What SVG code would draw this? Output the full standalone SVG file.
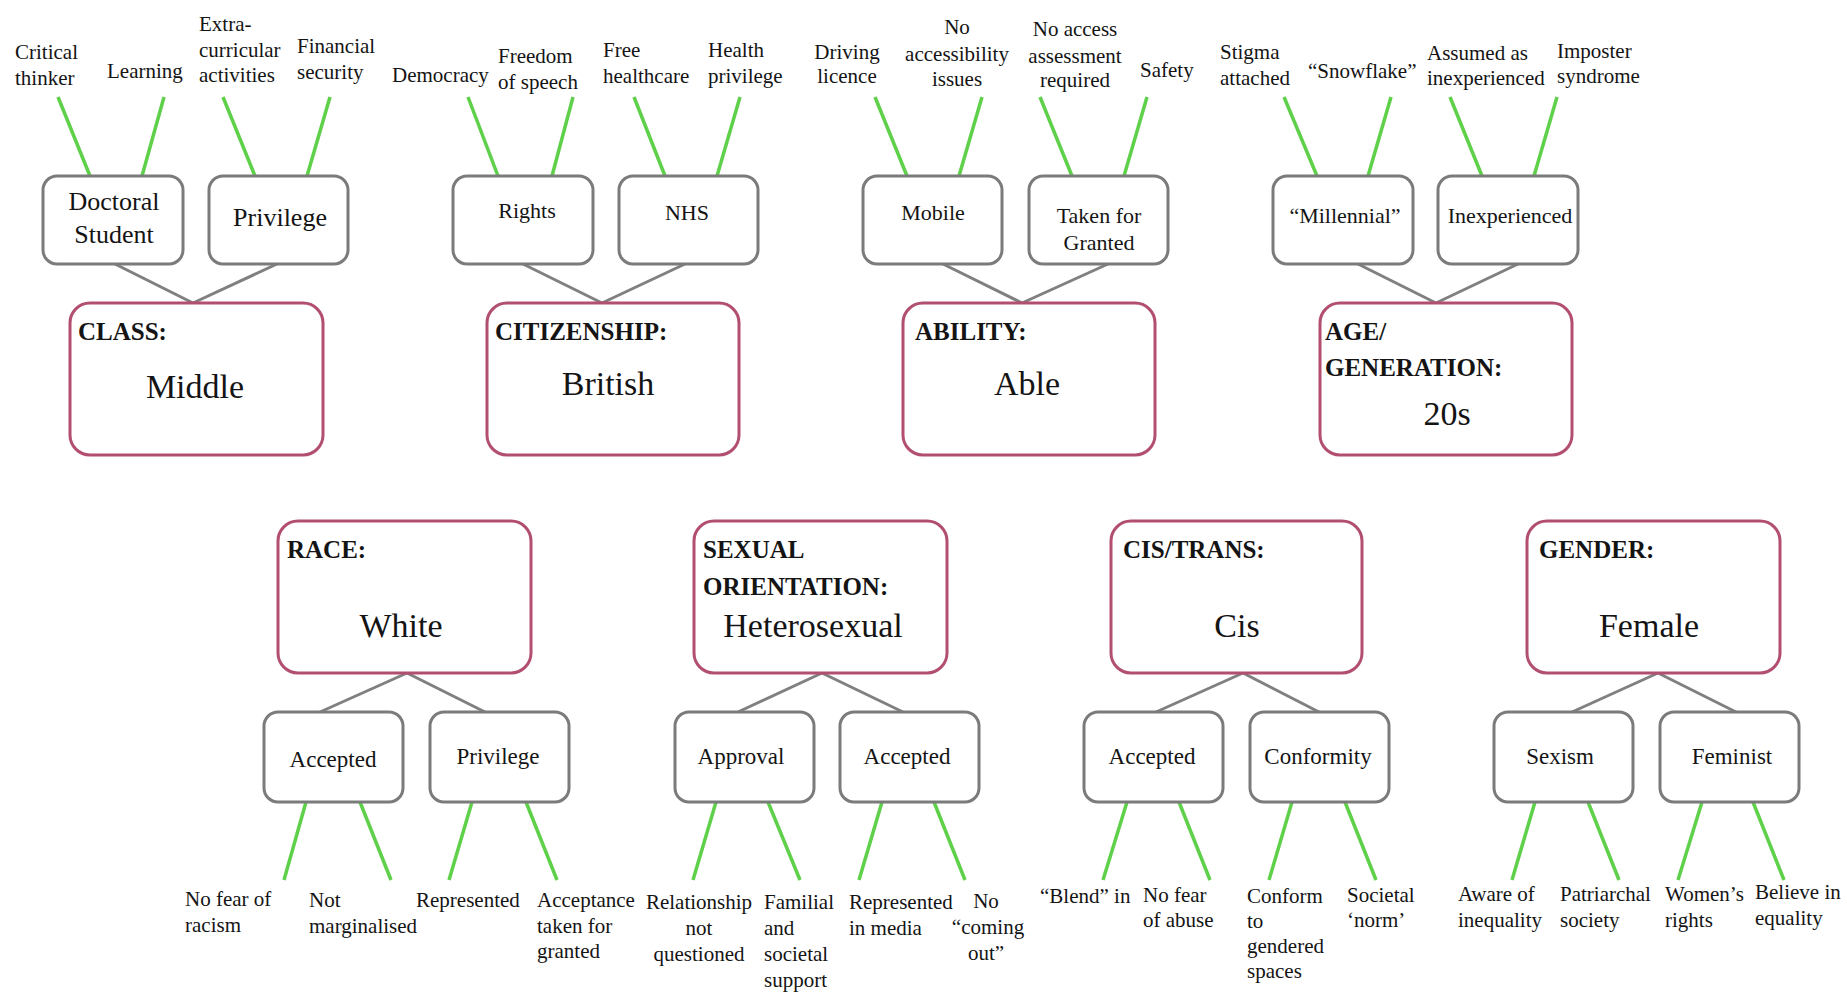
<svg xmlns="http://www.w3.org/2000/svg" width="1847" height="992" viewBox="0 0 1847 992">
<style>
.bg{fill:#fff}
.main{fill:#fff;stroke:#b24f70;stroke-width:3}
.sub{fill:#fff;stroke:#7b7b7b;stroke-width:3}
.gl{stroke:#5fd04a;stroke-width:3.5;fill:none}
.gr{stroke:#808080;stroke-width:3;fill:none}
text{font-family:"Liberation Serif","Times New Roman",serif;fill:#141414}
.lab{font-size:21px}
.box{font-size:22px;text-anchor:middle}
.boxl{font-size:26px;text-anchor:middle}
.box2{font-size:23px;text-anchor:middle}
.hd{font-size:25px;font-weight:bold}
.val{font-size:34px;text-anchor:middle}
.c{text-anchor:middle}
</style>
<rect class="bg" x="0" y="0" width="1847" height="992"/>

<g id="connectors">
  <!-- CLASS -->
  <line class="gr" x1="115" y1="264" x2="193" y2="303"/>
  <line class="gr" x1="277" y1="264" x2="193" y2="303"/>
  <line class="gl" x1="58" y1="97" x2="90" y2="176"/>
  <line class="gl" x1="164" y1="97" x2="142" y2="176"/>
  <line class="gl" x1="223" y1="97" x2="255" y2="176"/>
  <line class="gl" x1="330" y1="97" x2="307" y2="176"/>
  <!-- CITIZENSHIP -->
  <line class="gr" x1="523" y1="264" x2="602" y2="303"/>
  <line class="gr" x1="685" y1="264" x2="602" y2="303"/>
  <line class="gl" x1="468" y1="97" x2="498" y2="176"/>
  <line class="gl" x1="573" y1="97" x2="552" y2="176"/>
  <line class="gl" x1="634" y1="97" x2="665" y2="176"/>
  <line class="gl" x1="740" y1="97" x2="717" y2="176"/>
  <!-- ABILITY -->
  <line class="gr" x1="943" y1="264" x2="1022" y2="303"/>
  <line class="gr" x1="1108" y1="264" x2="1022" y2="303"/>
  <line class="gl" x1="875" y1="97" x2="907" y2="176"/>
  <line class="gl" x1="982" y1="97" x2="959" y2="176"/>
  <line class="gl" x1="1040" y1="97" x2="1072" y2="176"/>
  <line class="gl" x1="1147" y1="97" x2="1124" y2="176"/>
  <!-- AGE -->
  <line class="gr" x1="1358" y1="264" x2="1436" y2="303"/>
  <line class="gr" x1="1518" y1="264" x2="1436" y2="303"/>
  <line class="gl" x1="1284" y1="97" x2="1317" y2="176"/>
  <line class="gl" x1="1391" y1="97" x2="1368" y2="176"/>
  <line class="gl" x1="1450" y1="97" x2="1482" y2="176"/>
  <line class="gl" x1="1557" y1="97" x2="1534" y2="176"/>
  <!-- RACE -->
  <line class="gr" x1="407" y1="673" x2="320" y2="712"/>
  <line class="gr" x1="407" y1="673" x2="485" y2="712"/>
  <line class="gl" x1="306" y1="802" x2="284" y2="880"/>
  <line class="gl" x1="360" y1="802" x2="391" y2="880"/>
  <line class="gl" x1="472" y1="802" x2="449" y2="880"/>
  <line class="gl" x1="526" y1="802" x2="557" y2="880"/>
  <!-- SEXUAL ORIENTATION -->
  <line class="gr" x1="822" y1="673" x2="738" y2="712"/>
  <line class="gr" x1="822" y1="673" x2="903" y2="712"/>
  <line class="gl" x1="716" y1="802" x2="693" y2="880"/>
  <line class="gl" x1="768" y1="802" x2="800" y2="880"/>
  <line class="gl" x1="882" y1="802" x2="859" y2="880"/>
  <line class="gl" x1="934" y1="802" x2="965" y2="880"/>
  <!-- CIS/TRANS -->
  <line class="gr" x1="1243" y1="673" x2="1156" y2="712"/>
  <line class="gr" x1="1243" y1="673" x2="1319" y2="712"/>
  <line class="gl" x1="1127" y1="802" x2="1103" y2="880"/>
  <line class="gl" x1="1179" y1="802" x2="1210" y2="880"/>
  <line class="gl" x1="1292" y1="802" x2="1269" y2="880"/>
  <line class="gl" x1="1345" y1="802" x2="1376" y2="880"/>
  <!-- GENDER -->
  <line class="gr" x1="1658" y1="673" x2="1572" y2="712"/>
  <line class="gr" x1="1658" y1="673" x2="1736" y2="712"/>
  <line class="gl" x1="1535" y1="802" x2="1512" y2="880"/>
  <line class="gl" x1="1588" y1="802" x2="1619" y2="880"/>
  <line class="gl" x1="1702" y1="802" x2="1678" y2="880"/>
  <line class="gl" x1="1753" y1="802" x2="1784" y2="880"/>
</g>

<!-- CLASS tree -->
<g id="class">
  <rect class="main" x="70" y="303" width="253" height="152" rx="20"/>
  <text class="hd" x="78" y="340">CLASS:</text>
  <text class="val" x="195" y="398">Middle</text>
</g>
<g id="class-doctoral">
  <rect class="sub" x="43" y="176" width="140" height="88" rx="14"/>
  <text class="boxl" x="114" y="210">Doctoral</text>
  <text class="boxl" x="114" y="243">Student</text>
</g>
<g id="class-privilege">
  <rect class="sub" x="209" y="176" width="139" height="88" rx="14"/>
  <text class="boxl" x="280" y="226">Privilege</text>
</g>
<g id="class-labels">
  <text class="lab" x="15" y="59">Critical</text>
  <text class="lab" x="15" y="85">thinker</text>
  <text class="lab" x="107" y="78">Learning</text>
  <text class="lab" x="199" y="31">Extra-</text>
  <text class="lab" x="199" y="57">curricular</text>
  <text class="lab" x="199" y="82">activities</text>
  <text class="lab" x="297" y="53">Financial</text>
  <text class="lab" x="297" y="79">security</text>
</g>

<!-- CITIZENSHIP tree -->
<g id="citizenship">
  <rect class="main" x="487" y="303" width="252" height="152" rx="20"/>
  <text class="hd" x="495" y="340">CITIZENSHIP:</text>
  <text class="val" x="608" y="395">British</text>
</g>
<g id="citizenship-rights">
  <rect class="sub" x="453" y="176" width="140" height="88" rx="14"/>
  <text class="box" x="527" y="218">Rights</text>
</g>
<g id="citizenship-nhs">
  <rect class="sub" x="619" y="176" width="139" height="88" rx="14"/>
  <text class="box" x="687" y="220">NHS</text>
</g>
<g id="citizenship-labels">
  <text class="lab" x="392" y="82">Democracy</text>
  <text class="lab" x="498" y="63">Freedom</text>
  <text class="lab" x="498" y="89">of speech</text>
  <text class="lab" x="603" y="57">Free</text>
  <text class="lab" x="603" y="83">healthcare</text>
  <text class="lab" x="708" y="57">Health</text>
  <text class="lab" x="708" y="83">privilege</text>
</g>

<!-- ABILITY tree -->
<g id="ability">
  <rect class="main" x="903" y="303" width="252" height="152" rx="20"/>
  <text class="hd" x="915" y="340">ABILITY:</text>
  <text class="val" x="1027" y="395">Able</text>
</g>
<g id="ability-mobile">
  <rect class="sub" x="863" y="176" width="139" height="88" rx="14"/>
  <text class="box" x="933" y="220">Mobile</text>
</g>
<g id="ability-taken">
  <rect class="sub" x="1029" y="176" width="139" height="88" rx="14"/>
  <text class="box" x="1099" y="223">Taken for</text>
  <text class="box" x="1099" y="250">Granted</text>
</g>
<g id="ability-labels">
  <text class="lab c" x="847" y="59">Driving</text>
  <text class="lab c" x="847" y="83">licence</text>
  <text class="lab c" x="957" y="34">No</text>
  <text class="lab c" x="957" y="61">accessibility</text>
  <text class="lab c" x="957" y="86">issues</text>
  <text class="lab c" x="1075" y="36">No access</text>
  <text class="lab c" x="1075" y="63">assessment</text>
  <text class="lab c" x="1075" y="87">required</text>
  <text class="lab" x="1140" y="77">Safety</text>
</g>

<!-- AGE tree -->
<g id="age">
  <rect class="main" x="1320" y="303" width="252" height="152" rx="20"/>
  <text class="hd" x="1325" y="340">AGE/</text>
  <text class="hd" x="1325" y="376">GENERATION:</text>
  <text class="val" x="1447" y="425">20s</text>
</g>
<g id="age-millennial">
  <rect class="sub" x="1273" y="176" width="140" height="88" rx="14"/>
  <text class="box" x="1345" y="223">“Millennial”</text>
</g>
<g id="age-inexperienced">
  <rect class="sub" x="1438" y="176" width="140" height="88" rx="14"/>
  <text class="box" x="1510" y="223">Inexperienced</text>
</g>
<g id="age-labels">
  <text class="lab" x="1220" y="59">Stigma</text>
  <text class="lab" x="1220" y="85">attached</text>
  <text class="lab" x="1308" y="78">“Snowflake”</text>
  <text class="lab" x="1427" y="60">Assumed as</text>
  <text class="lab" x="1427" y="85">inexperienced</text>
  <text class="lab" x="1557" y="58">Imposter</text>
  <text class="lab" x="1557" y="83">syndrome</text>
</g>

<!-- RACE tree -->
<g id="race">
  <rect class="main" x="278" y="521" width="253" height="152" rx="20"/>
  <text class="hd" x="287" y="558">RACE:</text>
  <text class="val" x="401" y="637">White</text>
</g>
<g id="race-accepted">
  <rect class="sub" x="264" y="712" width="139" height="90" rx="14"/>
  <text class="box2" x="333" y="767">Accepted</text>
</g>
<g id="race-privilege">
  <rect class="sub" x="430" y="712" width="139" height="90" rx="14"/>
  <text class="box2" x="498" y="764">Privilege</text>
</g>
<g id="race-labels">
  <text class="lab" x="185" y="906">No fear of</text>
  <text class="lab" x="185" y="932">racism</text>
  <text class="lab" x="309" y="907">Not</text>
  <text class="lab" x="309" y="933">marginalised</text>
  <text class="lab" x="416" y="907">Represented</text>
  <text class="lab" x="537" y="907">Acceptance</text>
  <text class="lab" x="537" y="933">taken for</text>
  <text class="lab" x="537" y="958">granted</text>
</g>

<!-- SEXUAL ORIENTATION tree -->
<g id="sexual-orientation">
  <rect class="main" x="694" y="521" width="253" height="152" rx="20"/>
  <text class="hd" x="703" y="558">SEXUAL</text>
  <text class="hd" x="703" y="595">ORIENTATION:</text>
  <text class="val" x="813" y="637">Heterosexual</text>
</g>
<g id="so-approval">
  <rect class="sub" x="675" y="712" width="139" height="90" rx="14"/>
  <text class="box2" x="741" y="764">Approval</text>
</g>
<g id="so-accepted">
  <rect class="sub" x="840" y="712" width="139" height="90" rx="14"/>
  <text class="box2" x="907" y="764">Accepted</text>
</g>
<g id="so-labels">
  <text class="lab c" x="699" y="909">Relationship</text>
  <text class="lab c" x="699" y="935">not</text>
  <text class="lab c" x="699" y="961">questioned</text>
  <text class="lab" x="764" y="909">Familial</text>
  <text class="lab" x="764" y="935">and</text>
  <text class="lab" x="764" y="961">societal</text>
  <text class="lab" x="764" y="987">support</text>
  <text class="lab" x="849" y="909">Represented</text>
  <text class="lab" x="849" y="935">in media</text>
  <text class="lab c" x="986" y="908">No</text>
  <text class="lab c" x="988" y="934">“coming</text>
  <text class="lab c" x="986" y="960">out”</text>
</g>

<!-- CIS/TRANS tree -->
<g id="cis-trans">
  <rect class="main" x="1111" y="521" width="251" height="152" rx="20"/>
  <text class="hd" x="1123" y="558">CIS/TRANS:</text>
  <text class="val" x="1237" y="637">Cis</text>
</g>
<g id="ct-accepted">
  <rect class="sub" x="1084" y="712" width="139" height="90" rx="14"/>
  <text class="box2" x="1152" y="764">Accepted</text>
</g>
<g id="ct-conformity">
  <rect class="sub" x="1250" y="712" width="139" height="90" rx="14"/>
  <text class="box2" x="1318" y="764">Conformity</text>
</g>
<g id="ct-labels">
  <text class="lab" x="1040" y="903">“Blend” in</text>
  <text class="lab" x="1143" y="902">No fear</text>
  <text class="lab" x="1143" y="927">of abuse</text>
  <text class="lab" x="1247" y="903">Conform</text>
  <text class="lab" x="1247" y="928">to</text>
  <text class="lab" x="1247" y="953">gendered</text>
  <text class="lab" x="1247" y="978">spaces</text>
  <text class="lab" x="1347" y="902">Societal</text>
  <text class="lab" x="1347" y="927">‘norm’</text>
</g>

<!-- GENDER tree -->
<g id="gender">
  <rect class="main" x="1527" y="521" width="253" height="152" rx="20"/>
  <text class="hd" x="1539" y="558">GENDER:</text>
  <text class="val" x="1649" y="637">Female</text>
</g>
<g id="g-sexism">
  <rect class="sub" x="1494" y="712" width="139" height="90" rx="14"/>
  <text class="box2" x="1560" y="764">Sexism</text>
</g>
<g id="g-feminist">
  <rect class="sub" x="1660" y="712" width="139" height="90" rx="14"/>
  <text class="box2" x="1732" y="764">Feminist</text>
</g>
<g id="g-labels">
  <text class="lab" x="1458" y="901">Aware of</text>
  <text class="lab" x="1458" y="927">inequality</text>
  <text class="lab" x="1560" y="901">Patriarchal</text>
  <text class="lab" x="1560" y="927">society</text>
  <text class="lab" x="1665" y="901">Women’s</text>
  <text class="lab" x="1665" y="927">rights</text>
  <text class="lab" x="1755" y="899">Believe in</text>
  <text class="lab" x="1755" y="925">equality</text>
</g>
</svg>
